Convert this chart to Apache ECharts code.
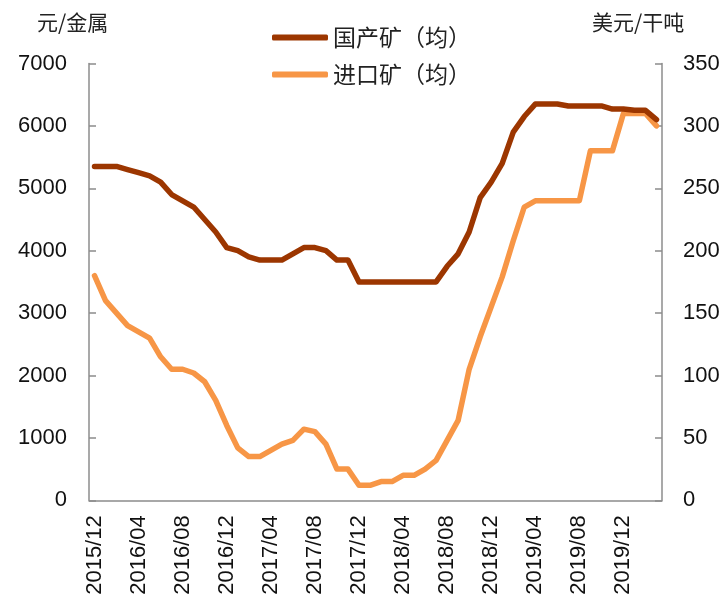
<!DOCTYPE html>
<html>
<head>
<meta charset="utf-8">
<script src="https://cdn.jsdelivr.net/npm/echarts@6/dist/echarts.min.js"></script>
<style>html,body{margin:0;padding:0;background:#fff;}#c{width:728px;height:603px;}</style>
</head>
<body>
<div id="c"></div>
<script>
var categories = [
 '2015/12','2016/01','2016/02','2016/03','2016/04','2016/05','2016/06','2016/07','2016/08','2016/09','2016/10','2016/11',
 '2016/12','2017/01','2017/02','2017/03','2017/04','2017/05','2017/06','2017/07','2017/08','2017/09','2017/10','2017/11',
 '2017/12','2018/01','2018/02','2018/03','2018/04','2018/05','2018/06','2018/07','2018/08','2018/09','2018/10','2018/11',
 '2018/12','2019/01','2019/02','2019/03','2019/04','2019/05','2019/06','2019/07','2019/08','2019/09','2019/10','2019/11',
 '2019/12','2020/01','2020/02','2020/03'
];
// 国产矿（均） 元/金属 (left axis)
var domestic = [
 5350,5350,5350,5300,5250,5200,5100,4900,4800,4700,4500,4300,
 4050,4000,3900,3850,3850,3850,3950,4050,4050,4000,3850,3850,
 3500,3500,3500,3500,3500,3500,3500,3500,3750,3950,4300,4850,
 5100,5400,5900,6150,6350,6350,6350,6320,6320,6320,6320,6270,
 6270,6250,6250,6100
];
// 进口矿（均） 美元/干吨 (right axis)
var imported = [
 180,160,150,140,135,130,115,105,105,102,95,80,
 60,42,35,35,40,45,48,57,55,45,25,25,
 12,12,15,15,20,20,25,32,48,64,105,131,
 155,179,208,235,240,240,240,240,240,280,280,280,
 310,310,310,300
];
var leftName = '元/金属';
var rightName = '美元/干吨';
var seriesNames = ['国产矿（均）','进口矿（均）'];

var axisColor = '#8c8c8c';
var numFont = 'Liberation Sans, Arial, sans-serif';
var cjkFont = '"Noto Sans CJK SC", sans-serif';

var chart = echarts.init(document.getElementById('c'));
chart.setOption({
  animation: false,
  backgroundColor: '#fff',
  grid: {left: 89, right: 66, top: 63.5, bottom: 102.7, containLabel: false},
  legend: {
    orient: 'vertical', left: 267, top: 21,
    itemWidth: 56, itemHeight: 6, itemGap: 14,
    icon: 'roundRect',
    data: seriesNames,
    textStyle: {fontSize: 23, fontFamily: cjkFont, color: '#222', lineHeight: 23}
  },
  graphic: [
    {type: 'text', left: 37, top: 12, style: {text: leftName, fontSize: 21, fontFamily: cjkFont, fill: '#222'}},
    {type: 'text', left: 592, top: 12, style: {text: rightName, fontSize: 21, fontFamily: cjkFont, fill: '#222'}}
  ],
  xAxis: {
    type: 'category', data: categories, boundaryGap: true,
    axisLine: {lineStyle: {color: axisColor, width: 1.5}},
    axisTick: {interval: 3, inside: true, length: 7, lineStyle: {color: axisColor, width: 1.5}},
    axisLabel: {interval: 3, rotate: 90, margin: 15, fontSize: 22, fontFamily: numFont, color: '#111'}
  },
  yAxis: [
    {type: 'value', min: 0, max: 7000, interval: 1000,
     axisLine: {show: true, lineStyle: {color: axisColor, width: 1.5}},
     axisTick: {show: true, inside: true, length: 7, lineStyle: {color: axisColor, width: 1.5}},
     splitLine: {show: false},
     axisLabel: {margin: 22, fontSize: 22, fontFamily: numFont, color: '#111', formatter: function (v) { return String(v); }}},
    {type: 'value', min: 0, max: 350, interval: 50, position: 'right',
     axisLine: {show: true, lineStyle: {color: axisColor, width: 1.5}},
     axisTick: {show: true, inside: true, length: 7, lineStyle: {color: axisColor, width: 1.5}},
     splitLine: {show: false},
     axisLabel: {margin: 21, fontSize: 22, fontFamily: numFont, color: '#111', formatter: function (v) { return String(v); }}}
  ],
  series: [
    {name: seriesNames[0], type: 'line', yAxisIndex: 0, data: domestic, symbol: 'none',
     lineStyle: {color: '#9c3600', width: 5.5, cap: 'round', join: 'round'}, itemStyle: {color: '#9c3600'}, z: 3},
    {name: seriesNames[1], type: 'line', yAxisIndex: 1, data: imported, symbol: 'none',
     lineStyle: {color: '#f79646', width: 5.5, cap: 'round', join: 'round'}, itemStyle: {color: '#f79646'}, z: 2}
  ]
});
</script>
</body>
</html>
